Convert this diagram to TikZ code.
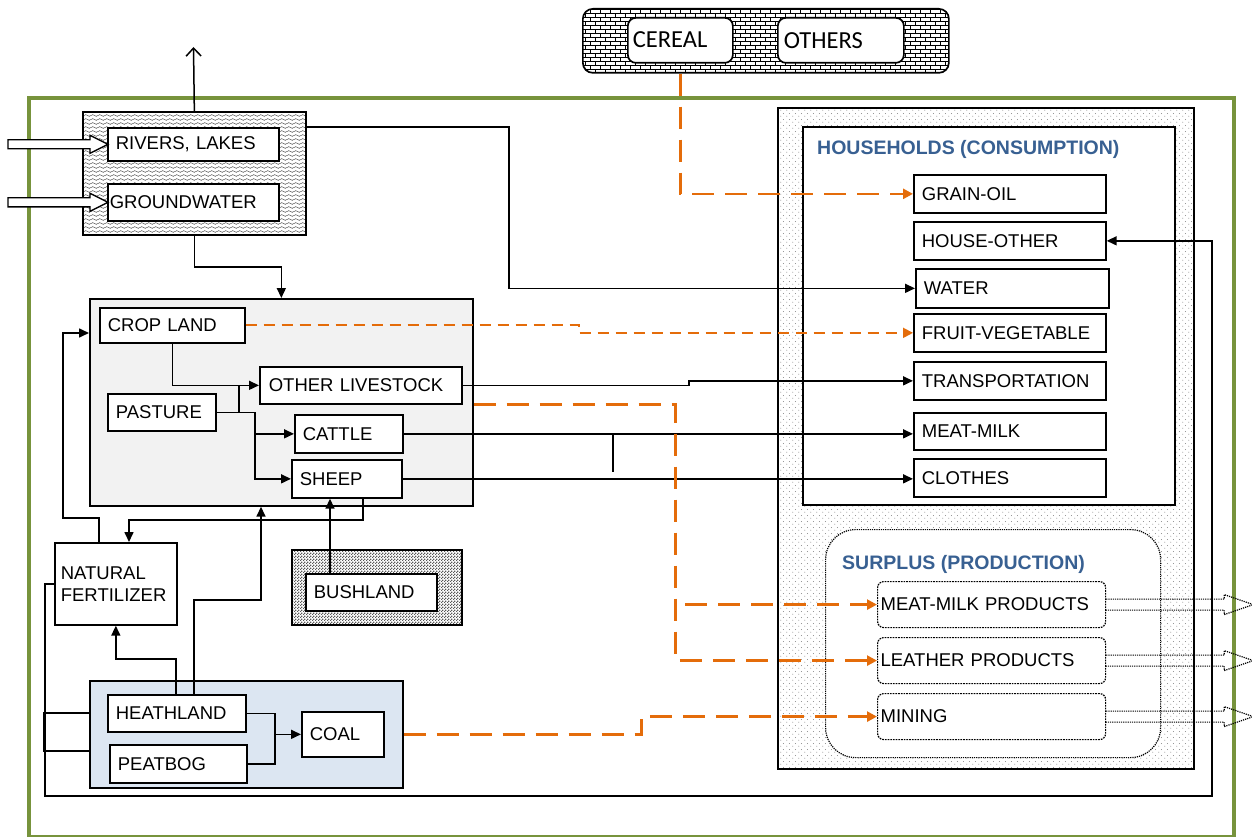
\documentclass[tikz,border=0pt]{standalone}
\usepackage{fontspec}
\setmainfont{Liberation Sans}
\newfontfamily\calibfont{Carlito}
\usetikzlibrary{arrows.meta,patterns,calc}
\definecolor{orng}{RGB}{228,108,10}
\definecolor{framegreen}{RGB}{119,147,60}
\definecolor{landgray}{RGB}{242,242,242}
\definecolor{blueb}{RGB}{220,230,242}
\definecolor{ttlblue}{RGB}{56,96,146}
\pgfdeclarepatternformonly{waves}{\pgfpoint{-0.5pt}{-0.5pt}}{\pgfpoint{7.5pt}{4.5pt}}{\pgfpoint{7pt}{4pt}}{%
  \pgfsetlinewidth{0.4pt}%
  \pgfpathmoveto{\pgfpoint{0pt}{1.5pt}}%
  \pgfpathcurveto{\pgfpoint{1.2pt}{2.6pt}}{\pgfpoint{2.3pt}{2.6pt}}{\pgfpoint{3.5pt}{1.5pt}}%
  \pgfpathcurveto{\pgfpoint{4.7pt}{0.4pt}}{\pgfpoint{5.8pt}{0.4pt}}{\pgfpoint{7pt}{1.5pt}}%
  \pgfusepath{stroke}}
\pgfdeclarepatternformonly{smallbricks}{\pgfpoint{-0.5pt}{-0.5pt}}{\pgfpoint{10.5pt}{8.5pt}}{\pgfpoint{10pt}{8pt}}{%
  \pgfsetlinewidth{0.5pt}%
  \pgfpathmoveto{\pgfpoint{0pt}{0pt}}\pgfpathlineto{\pgfpoint{10pt}{0pt}}%
  \pgfpathmoveto{\pgfpoint{0pt}{4pt}}\pgfpathlineto{\pgfpoint{10pt}{4pt}}%
  \pgfpathmoveto{\pgfpoint{0pt}{0pt}}\pgfpathlineto{\pgfpoint{0pt}{4pt}}%
  \pgfpathmoveto{\pgfpoint{5pt}{4pt}}\pgfpathlineto{\pgfpoint{5pt}{8pt}}%
  \pgfusepath{stroke}}
\pgfdeclarepatternformonly{finecheck}{\pgfpointorigin}{\pgfpoint{3pt}{3pt}}{\pgfpoint{3pt}{3pt}}{%
  \pgfpathrectangle{\pgfpointorigin}{\pgfpoint{1.5pt}{1.5pt}}%
  \pgfpathrectangle{\pgfpoint{1.5pt}{1.5pt}}{\pgfpoint{1.5pt}{1.5pt}}%
  \pgfusepath{fill}}
\pgfdeclarepatternformonly{sparsedots}{\pgfpointorigin}{\pgfpoint{6pt}{6pt}}{\pgfpoint{6pt}{6pt}}{%
  \pgfpathcircle{\pgfpoint{1pt}{1pt}}{0.55pt}%
  \pgfpathcircle{\pgfpoint{4pt}{4pt}}{0.55pt}%
  \pgfusepath{fill}}
\begin{document}
\begin{tikzpicture}[x=1pt,y=-1pt,
  bx/.style={draw, line width=1.7pt, fill=white, anchor=north west, inner xsep=8pt, inner ysep=0pt, align=left, font=\fontsize{18.5}{22}\selectfont},
  sbx/.style={bx, densely dotted, line width=1.2pt, rounded corners=6pt, inner xsep=3pt},
  cont/.style={draw, line width=1.7pt, anchor=north west, inner sep=0pt},
  arr/.style={line width=1.6pt, -{Triangle[length=10pt,width=9pt]}},
  ln/.style={line width=1.6pt},
  odash/.style={draw=orng, line width=2.6pt, dash pattern=on 22pt off 11pt, -{Triangle[length=10pt,width=10pt,fill=orng]}},
  othin/.style={draw=orng, line width=1.8pt, dash pattern=on 11pt off 7pt, -{Triangle[length=10pt,width=10pt,fill=orng]}},
  ttl/.style={anchor=west, inner sep=0pt, text=ttlblue, font=\bfseries\fontsize{19.5}{22}\selectfont},
  blockin/.style={line width=1.3pt, fill=white},
  blockout/.style={densely dotted, line width=1.2pt},
]
\useasboundingbox (0,0) rectangle (1252,837);
% outer frame
\node[draw=framegreen, line width=4pt, anchor=north west, inner sep=0pt, minimum width=1205pt, minimum height=739pt] (frm) at (27,96) {};
% containers
\node[cont, pattern=smallbricks, rounded corners=10pt, minimum width=366pt, minimum height=64pt] (brk) at (582,8) {};
\node[cont, pattern=waves, pattern color=black!85, minimum width=223pt, minimum height=123pt] (wbox) at (82,111) {};
\node[cont, fill=landgray, minimum width=383pt, minimum height=207pt] (land) at (89,298) {};
\node[cont, pattern=finecheck, pattern color=black!65, minimum width=170pt, minimum height=75pt] (bushout) at (291,549) {};
\node[cont, fill=blueb, minimum width=313pt, minimum height=107pt] (blue) at (89,680) {};
\node[cont, fill=white, minimum width=46pt, minimum height=38pt] (small) at (43,712) {};
\node[cont, pattern=sparsedots, pattern color=black!55, minimum width=416pt, minimum height=661pt] (hhout) at (777,107) {};
\node[cont, fill=white, minimum width=372pt, minimum height=378pt] (hhin) at (802,126) {};
\node[draw, densely dotted, line width=1.2pt, fill=white, anchor=north west, inner sep=0pt, rounded corners=30pt, minimum width=335pt, minimum height=228pt] (surp) at (825,529) {};
% titles
\node[ttl] (hhttl) at (817,149) {HOUSEHOLDS (CONSUMPTION)};
\node[ttl] (spttl) at (842,564) {SURPLUS (PRODUCTION)};
% top boxes
\node[bx, rounded corners=8pt, inner xsep=5pt, text width=95pt, minimum height=45pt, font=\calibfont\fontsize{24.5}{26}\selectfont] (cereal) at (627,17) {\raisebox{2pt}{CEREAL}};
\node[bx, rounded corners=8pt, inner xsep=6pt, text width=114pt, minimum height=45pt, font=\calibfont\fontsize{24.5}{26}\selectfont] (others) at (777,17) {\raisebox{-4pt}{OTHERS}};
% water
\node[bx, text width=155pt, minimum height=33pt] (rivers) at (107,127) {\raisebox{-2pt}{RIVERS, LAKES}};
\node[bx, inner xsep=2pt, text width=167pt, minimum height=37pt] (ground) at (107,183) {\raisebox{-2pt}{GROUNDWATER}};
% land
\node[bx, text width=129pt, minimum height=35pt] (crop) at (99,307) {\raisebox{-2pt}{CROP LAND}};
\node[bx, inner xsep=9pt, text width=184pt, minimum height=37pt] (olive) at (259,366) {\raisebox{-2pt}{OTHER LIVESTOCK}};
\node[bx, text width=92pt, minimum height=37pt] (pasture) at (107,393) {\raisebox{-2pt}{PASTURE}};
\node[bx, text width=92pt, minimum height=38pt] (cattle) at (294,414) {\raisebox{-3pt}{CATTLE}};
\node[bx, text width=94pt, minimum height=38pt] (sheep) at (291,459) {\raisebox{-3pt}{SHEEP}};
% lower left
\node[bx, inner xsep=6pt, text width=110pt, minimum height=82pt] (nf) at (54,542) {NATURAL\\FERTILIZER};
\node[bx, text width=115pt, minimum height=37pt] (bush) at (305,573) {\raisebox{-2pt}{BUSHLAND}};
\node[bx, text width=122pt, minimum height=37pt] (heath) at (107,694) {\raisebox{-2pt}{HEATHLAND}};
\node[bx, text width=121pt, minimum height=38pt] (peat) at (109,744) {\raisebox{-3pt}{PEATBOG}};
\node[bx, text width=66pt, minimum height=45pt] (coal) at (301,711) {COAL};
% households
\node[bx, text width=176pt, minimum height=38pt] (grain) at (913,174) {\raisebox{-2pt}{GRAIN-OIL}};
\node[bx, text width=176pt, minimum height=38pt] (hother) at (913,221) {\raisebox{-2pt}{HOUSE-OTHER}};
\node[bx, text width=177pt, minimum height=39pt] (water) at (915,268) {\raisebox{-2pt}{WATER}};
\node[bx, text width=176pt, minimum height=38pt] (fruit) at (913,313) {\raisebox{-2pt}{FRUIT-VEGETABLE}};
\node[bx, text width=176pt, minimum height=38pt] (transp) at (913,361) {\raisebox{-2pt}{TRANSPORTATION}};
\node[bx, text width=176pt, minimum height=37pt] (meat) at (913,412) {\raisebox{-2pt}{MEAT-MILK}};
\node[bx, text width=176pt, minimum height=38pt] (clothes) at (913,458) {\raisebox{-2pt}{CLOTHES}};
% surplus
\node[sbx, text width=222pt, minimum height=46pt] (mmp) at (877,581) {MEAT-MILK PRODUCTS};
\node[sbx, text width=222pt, minimum height=46pt] (leather) at (877,637) {LEATHER PRODUCTS};
\node[sbx, text width=222pt, minimum height=46pt] (mining) at (877,693) {MINING};
% block arrows in (water inputs)
\foreach \n in {rivers,ground}
  \draw[blockin] ($(\n.west)+(1,0)$) -- ++(-18,-9) -- ++(0,4.5) -- ++(-82,0) -- ++(0,9) -- ++(82,0) -- ++(0,4.5) -- cycle;
% block arrows out (surplus)
\foreach \n in {mmp,leather,mining}
  \draw[blockout] (\n.east) ++(0,-5.5) -- ++(118,0) -- ++(0,-4.5) -- ++(29,10) -- ++(-29,10) -- ++(0,-4.5) -- ++(-118,0);
% evaporation arrow
\coordinate (sky) at (193.5,47);
\draw[line width=1.5pt, -{Straight Barb[length=8pt,width=15pt]}] (wbox.north) -- (sky);
% water connectors
\draw[arr] (rivers.north -| wbox.east) -- ++(202,0) |- (water.west);
\draw[arr] (wbox.south) -- ++(0,31) -| (land.north);
% land internal
\draw[arr] (crop.south) |- (olive.west);
\coordinate (pj) at ($(pasture.east)+(38,0)$);
\coordinate (pk) at ($(pasture.east)+(22,0)$);
\draw[ln] (pasture.east) -- (pj);
\draw[arr] (pj) |- (cattle.west);
\draw[arr] (pj) |- (sheep.west);
\draw[ln] (pk) -- (pk |- olive.west);
% feedback loops
\draw[arr] ($(nf.north west)+(45,0)$) -- ++(0,-24) -- ++(-36,0) |- ($(land.north west)+(0,35)$);
\draw[arr] ($(sheep.south east)+(-40,0)$) -- ++(0,21) -| ($(nf.north west)+(75,0)$);
\coordinate (bk) at ($(bush.north west)+(25,0)$);
\draw[arr] (bk) -- (bk |- sheep.south);
\draw[arr] ($(heath.north west)+(87,0)$) -- ++(0,-94) -| ($(land.south west)+(172,0)$);
\draw[arr] ($(heath.north west)+(69,0)$) -- ++(0,-35) -| (nf.south);
\coordinate (hj) at ($(heath.east)+(28,0)$);
\draw[ln] (heath.east) -- (hj) |- (peat.east);
\draw[arr] (hj |- coal.west) -- (coal.west);
% long loop to house-other
\coordinate (lp) at (1212,796);
\draw[arr] (nf.west) -- ++(-9,0) |- (lp) |- (hother.east);
% land to households
\draw[arr] (olive.east) -- ++(226,0) |- (transp.west);
\draw[arr] (cattle.east) -- (cattle.east -| meat.west);
\draw[arr] (sheep.east) -- (sheep.east -| clothes.west);
\draw[ln] ($(cattle.east)+(209,0)$) -- ++(0,38);
% orange flows
\draw[othin] ($(crop.east)+(0,-0.5)$) -- ++(333,0) |- (fruit.west);
\draw[odash] (cereal.south |- brk.south) |- (grain.west);
\draw[odash] (olive.south east -| land.east) -- ++(202,0) |- (leather.west);
\draw[odash] ($(mmp.west)+(-192,0)$) -- (mmp.west);
\draw[odash] (coal.east -| blue.east) -- ++(238,0) |- (mining.west);
\end{tikzpicture}
\end{document}
